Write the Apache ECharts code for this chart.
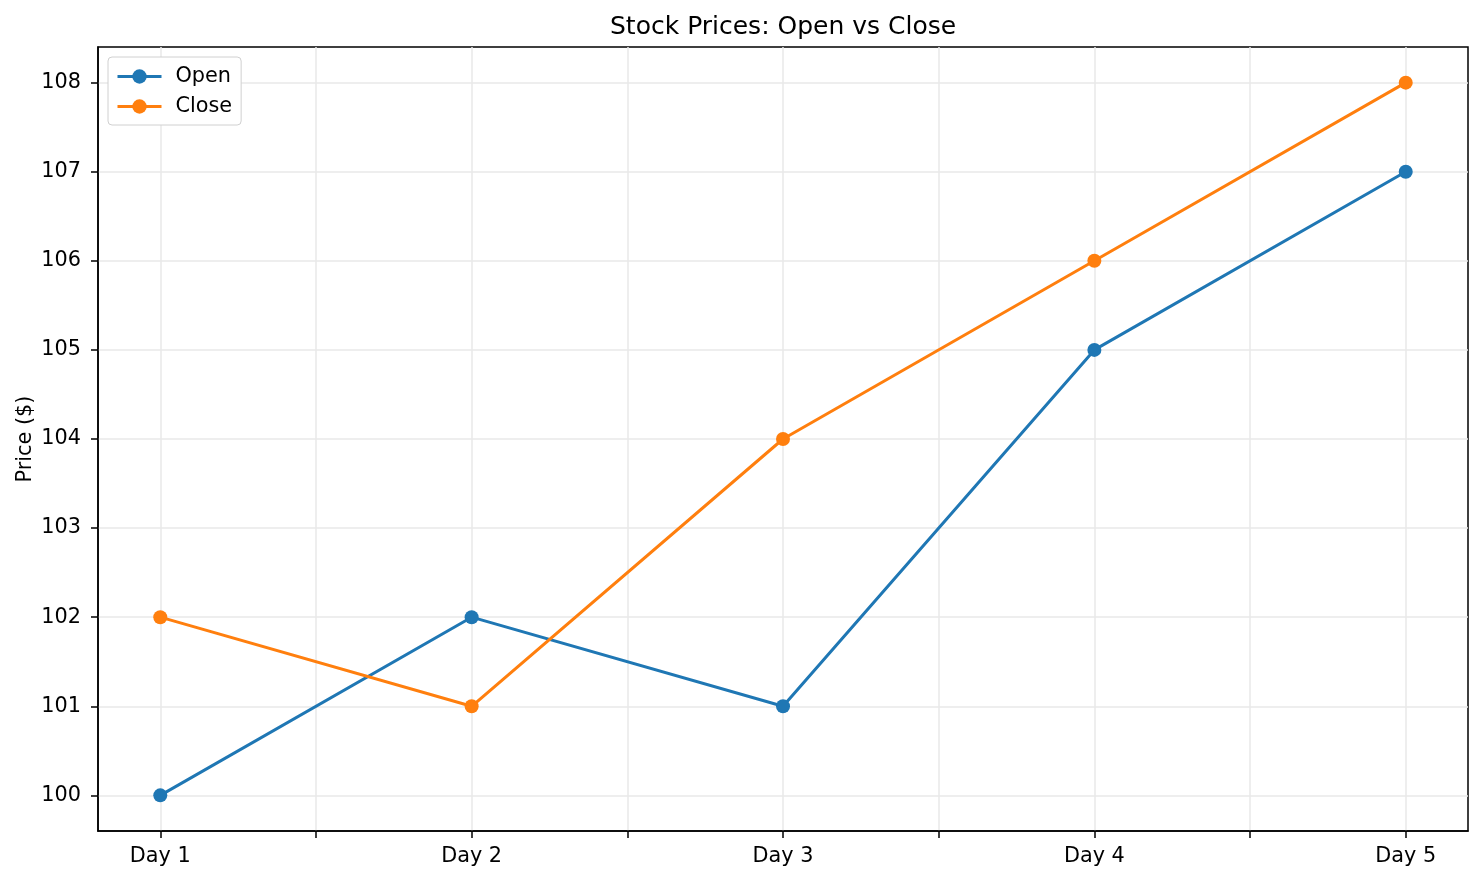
<!DOCTYPE html>
<html>
<head>
<meta charset="utf-8">
<script src="https://cdn.jsdelivr.net/npm/echarts@6/dist/echarts.min.js"></script>
<style>
html,body{margin:0;padding:0;background:#fff;}
#chart{width:1484px;height:882px;}
</style>
</head>
<body>
<div id="chart"></div>
<script>
const days = ['Day 1', 'Day 2', 'Day 3', 'Day 4', 'Day 5'];
const openPrices = [100, 102, 101, 105, 107];
const closePrices = [102, 101, 104, 106, 108];
const xTickValues = [0, 0.5, 1, 1.5, 2, 2.5, 3, 3.5, 4];
const xLabelValues = [0, 1, 2, 3, 4];
const yTickValues = [100, 101, 102, 103, 104, 105, 106, 107, 108];

const FONT = 'DejaVu Sans';
const chart = echarts.init(document.getElementById('chart'), null, {renderer: 'canvas'});

const toPairs = arr => arr.map((v, i) => [i, v]);

chart.setOption({
  animation: false,
  backgroundColor: '#ffffff',
  title: {
    text: 'Stock Prices: Open vs Close',
    left: 610,
    top: 15,
    padding: 0,
    textStyle: {fontFamily: FONT, fontSize: 25, fontWeight: 'normal', color: '#000'}
  },
  legend: {
    orient: 'vertical',
    left: 108,
    top: 57,
    padding: [9, 9, 8, 8],
    itemWidth: 44,
    itemHeight: 18,
    itemGap: 9,
    backgroundColor: '#ffffff',
    borderColor: '#d0d0d0',
    borderWidth: 1,
    borderRadius: 4,
    lineStyle: {width: 3},
    textStyle: {fontFamily: FONT, fontSize: 20.8, color: '#000', padding: [0, 0, 0, 9]},
    data: ['Open', 'Close']
  },
  grid: {
    left: 98, right: 16, top: 47, bottom: 51,
    show: true,
    borderColor: '#000',
    borderWidth: 1.5,
    containLabel: false,
    outerBoundsMode: 'none'
  },
  xAxis: {
    type: 'value',
    min: -0.2,
    max: 4.2,
    axisLine: {show: true, onZero: false, lineStyle: {color: '#000', width: 1.5}},
    axisTick: {show: true, customValues: xTickValues, length: 7, lineStyle: {color: '#000', width: 1.5}},
    axisLabel: {
      customValues: xLabelValues,
      margin: 15,
      fontFamily: FONT, fontSize: 20.8, color: '#000',
      formatter: v => days[Math.round(v)]
    },
    splitLine: {show: true, lineStyle: {color: '#e8e8e8', width: 1.5}}
  },
  yAxis: {
    type: 'value',
    min: 99.6,
    max: 108.4,
    name: 'Price ($)',
    nameLocation: 'middle',
    nameGap: 62,
    nameRotate: 90,
    nameMoveOverlap: false,
    nameTextStyle: {fontFamily: FONT, fontSize: 20.8, color: '#000'},
    axisLine: {show: true, onZero: false, lineStyle: {color: '#000', width: 1.5}},
    axisTick: {show: true, customValues: yTickValues, length: 7, lineStyle: {color: '#000', width: 1.5}},
    axisLabel: {
      customValues: yTickValues,
      margin: 17,
      fontFamily: FONT, fontSize: 20.8, color: '#000',
      formatter: v => String(Math.round(v))
    },
    splitLine: {show: true, lineStyle: {color: '#e8e8e8', width: 1.5}}
  },
  series: [
    {
      name: 'Open',
      type: 'line',
      data: toPairs(openPrices),
      color: '#1f77b4',
      lineStyle: {width: 3, color: '#1f77b4'},
      itemStyle: {color: '#1f77b4'},
      symbol: 'circle',
      symbolSize: 14,
      showAllSymbol: true,
      z: 3
    },
    {
      name: 'Close',
      type: 'line',
      data: toPairs(closePrices),
      color: '#ff7f0e',
      lineStyle: {width: 3, color: '#ff7f0e'},
      itemStyle: {color: '#ff7f0e'},
      symbol: 'circle',
      symbolSize: 14,
      showAllSymbol: true,
      z: 4
    }
  ]
});
</script>
</body>
</html>
